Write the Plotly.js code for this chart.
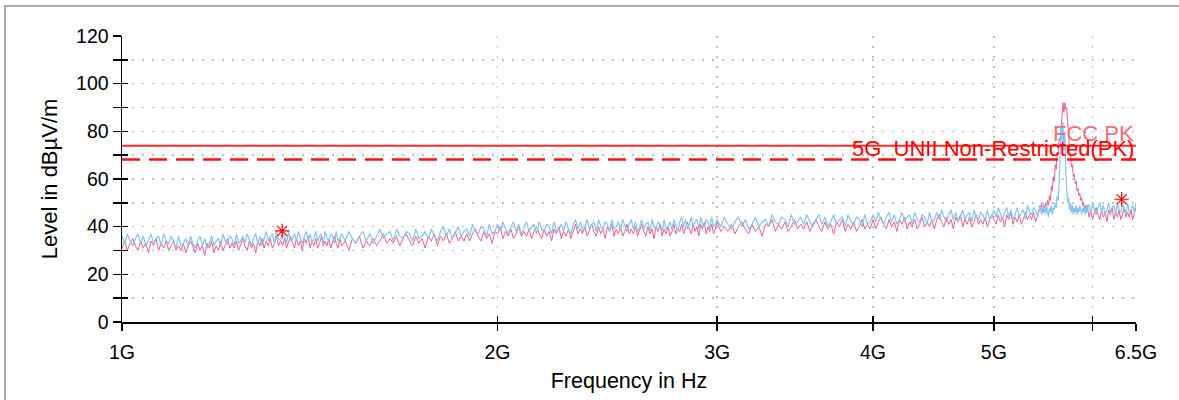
<!DOCTYPE html>
<html><head><meta charset="utf-8">
<script src="https://cdn.plot.ly/plotly-3.0.1.min.js"></script>
<style>
html,body{margin:0;padding:0;background:#fff;overflow:hidden}
#chart{width:1179px;height:400px}
#frame{position:absolute;left:4px;top:5px;width:1200px;height:420px;border-left:2px solid #aaa;border-top:2px solid #aaa;pointer-events:none;z-index:5}
</style></head><body>
<div id="chart"></div><div id="frame"></div>
<script>
// Sweep frequencies (GHz)
const freqGHz = [
1.000,1.005,1.010,1.015,1.020,1.025,1.030,1.035,1.040,1.045,
1.050,1.055,1.060,1.065,1.070,1.075,1.080,1.085,1.090,1.095,
1.100,1.105,1.110,1.115,1.120,1.125,1.130,1.135,1.140,1.145,
1.150,1.155,1.160,1.165,1.170,1.175,1.180,1.185,1.190,1.195,
1.200,1.205,1.210,1.215,1.220,1.225,1.230,1.235,1.240,1.245,
1.250,1.255,1.260,1.265,1.270,1.275,1.280,1.285,1.290,1.295,
1.300,1.305,1.310,1.315,1.320,1.325,1.330,1.335,1.340,1.345,
1.350,1.355,1.360,1.365,1.370,1.375,1.380,1.385,1.390,1.395,
1.400,1.405,1.410,1.415,1.420,1.425,1.430,1.435,1.440,1.445,
1.450,1.455,1.460,1.465,1.470,1.475,1.480,1.485,1.490,1.495,
1.50,1.51,1.52,1.53,1.54,1.55,1.56,1.57,1.58,1.59,
1.60,1.61,1.62,1.63,1.64,1.65,1.66,1.67,1.68,1.69,
1.70,1.71,1.72,1.73,1.74,1.75,1.76,1.77,1.78,1.79,
1.80,1.81,1.82,1.83,1.84,1.85,1.86,1.87,1.88,1.89,
1.90,1.91,1.92,1.93,1.94,1.95,1.96,1.97,1.98,1.99,
2.00,2.01,2.02,2.03,2.04,2.05,2.06,2.07,2.08,2.09,
2.10,2.11,2.12,2.13,2.14,2.15,2.16,2.17,2.18,2.19,
2.20,2.21,2.22,2.23,2.24,2.25,2.26,2.27,2.28,2.29,
2.30,2.31,2.32,2.33,2.34,2.35,2.36,2.37,2.38,2.39,
2.40,2.41,2.42,2.43,2.44,2.45,2.46,2.47,2.48,2.49,
2.50,2.51,2.52,2.53,2.54,2.55,2.56,2.57,2.58,2.59,
2.60,2.61,2.62,2.63,2.64,2.65,2.66,2.67,2.68,2.69,
2.70,2.71,2.72,2.73,2.74,2.75,2.76,2.77,2.78,2.79,
2.80,2.81,2.82,2.83,2.84,2.85,2.86,2.87,2.88,2.89,
2.90,2.91,2.92,2.93,2.94,2.95,2.96,2.97,2.98,2.99,
3.00,3.02,3.04,3.06,3.08,3.10,3.12,3.14,3.16,3.18,
3.20,3.22,3.24,3.26,3.28,3.30,3.32,3.34,3.36,3.38,
3.40,3.42,3.44,3.46,3.48,3.50,3.52,3.54,3.56,3.58,
3.60,3.62,3.64,3.66,3.68,3.70,3.72,3.74,3.76,3.78,
3.80,3.82,3.84,3.86,3.88,3.90,3.92,3.94,3.96,3.98,
4.00,4.02,4.04,4.06,4.08,4.10,4.12,4.14,4.16,4.18,
4.20,4.22,4.24,4.26,4.28,4.30,4.32,4.34,4.36,4.38,
4.40,4.42,4.44,4.46,4.48,4.50,4.52,4.54,4.56,4.58,
4.60,4.62,4.64,4.66,4.68,4.70,4.72,4.74,4.76,4.78,
4.80,4.82,4.84,4.86,4.88,4.90,4.92,4.94,4.96,4.98,
5.00,5.02,5.04,5.06,5.08,5.10,5.12,5.14,5.16,5.18,
5.20,5.22,5.24,5.26,5.28,5.30,5.32,5.34,5.36,5.38,
5.40,5.42,5.44,
5.45,5.46,5.47,5.48,5.49,5.50,5.51,5.52,5.53,5.54,
5.55,5.56,5.57,5.58,5.59,5.60,5.61,5.62,5.63,5.64,
5.65,5.66,5.67,5.68,5.69,5.70,5.71,5.72,5.73,5.74,
5.75,5.76,5.77,5.78,5.79,5.80,5.81,5.82,5.83,5.84,
5.85,5.86,5.87,5.88,5.89,5.90,5.91,5.92,5.93,5.94,5.95,
5.96,5.98,6.00,6.02,6.04,6.06,6.08,6.10,6.12,6.14,
6.16,6.18,6.20,6.22,6.24,6.26,6.28,6.30,6.32,6.34,
6.36,6.38,6.40,6.42,6.44,6.46,6.48,6.50
];
// Peak detector trace (dBµV/m) – pink
const levelPK = [
31,34,30,33,35,32,30,34,31,33,29,34,32,35,30,33,31,34,30,32,
34,30,32,30,33,29,32,34,31,29,33,30,32,28,33,31,34,29,32,30,
34,30,32,35,31,33,31,34,30,33,35,32,30,34,31,33,29,34,32,35,
31,34,32,35,31,33,36,32,34,32,35,31,34,36,33,31,35,32,34,30,
35,33,36,31,34,32,35,31,33,36,32,34,32,35,31,34,36,33,31,35,
32,34,30,35,33,36,31,34,32,35,
32,34,37,33,35,33,36,32,35,37,
34,32,36,33,35,31,36,34,37,32,
36,34,37,33,35,38,34,36,34,37,
34,37,39,36,34,38,35,37,33,38,
37,40,35,38,36,39,35,37,40,36,38,
36,39,35,38,40,37,35,39,36,38,34,39,37,40,35,38,36,39,35,
38,41,37,39,
37,40,36,39,41,38,36,40,37,39,35,40,38,41,36,39,37,40,36,38,41,37,39,
37,40,36,39,41,38,36,40,37,39,35,40,38,41,36,39,37,40,36,38,41,37,39,
38,41,37,40,42,39,37,41,38,40,36,41,39,42,37,40,38,41,37,39,
42,38,40,
38,41,37,40,42,39,37,41,38,40,36,41,
40,43,38,41,39,42,38,40,43,39,41,
39,42,38,41,43,40,38,42,39,41,37,42,40,43,38,41,39,42,38,40,43,39,41,
39,
43,39,42,44,41,39,43,40,42,38,43,41,44,39,42,40,43,39,41,44,40,42,
40,43,39,
43,45,42,40,44,41,43,39,44,42,45,40,43,41,44,40,42,45,41,43,
41,44,40,43,45,
43,41,45,42,44,40,45,43,46,41,44,42,45,41,43,46,
43,45,
43,46,42,45,47,
47,50,46,49,47,50,48,51,49,53,
51,57,55,61,59,66,64,71,70,77,
76,84,86,92,88,92,89,90,82,79,
72,70,65,66,61,62,58,59,55,56,
53,54,51,52,49,50,47,49,46,49,47,
44,47,43,46,48,45,43,47,44,46,
42,47,45,48,43,46,44,47,43,45,
48,44,46,44,47,43,46,48
];
// Second detector trace (dBµV/m) – light blue
const levelAV = [
36,33,37,34,32,35,37,33,36,32,34,37,33,35,36,32,37,34,33,36,
34,31,36,32,33,35,32,36,33,31,34,36,32,35,31,33,36,32,34,35,
32,37,34,33,36,35,32,37,33,34,36,33,37,34,32,35,37,33,36,32,
35,38,34,36,37,33,38,35,34,37,36,33,38,34,35,37,34,38,35,33,
36,38,34,37,33,35,38,34,36,37,33,38,35,34,37,36,33,38,34,35,
37,34,38,35,33,36,38,34,37,33,
36,39,35,37,38,34,39,36,35,38,
37,34,39,35,36,38,35,39,36,34,
38,40,36,39,35,37,40,36,38,39,
36,41,38,37,40,39,36,41,37,38,
41,38,42,39,37,40,42,38,41,37,39,42,38,40,41,37,42,39,38,41,40,37,42,38,39,
41,38,42,39,37,
41,43,39,42,38,40,43,39,41,42,38,43,40,39,42,41,38,43,39,40,
42,39,43,40,38,41,43,39,42,38,40,43,39,41,42,38,43,40,39,42,41,38,43,39,40,
42,39,43,40,38,
42,44,40,43,39,41,44,40,42,43,39,44,41,40,43,42,39,44,40,41,
43,40,44,41,39,42,44,40,43,39,41,44,40,42,43,
40,45,42,41,44,43,40,45,41,42,
44,41,45,42,40,43,45,41,44,40,42,45,41,43,44,40,45,42,41,44,43,40,45,41,42,
45,42,46,43,41,44,46,42,45,41,43,46,42,44,45,41,46,43,42,45,44,41,46,42,43,
46,43,47,44,42,45,47,43,46,42,44,47,43,45,46,42,47,44,43,46,45,42,47,43,44,
47,44,48,45,43,46,48,44,47,43,45,48,44,46,47,43,
49,46,45,48,47,44,49,
48,45,49,46,48,45,49,47,44,48,
46,49,45,48,47,50,48,53,51,58,
70,83,76,84,72,80,62,54,50,52,
47,50,46,49,45,48,46,49,45,48,
46,49,47,45,48,46,49,45,48,46,49,
49,46,50,47,45,48,50,46,49,45,
47,50,46,48,49,45,50,47,46,49,
48,45,50,46,47,49,46,50
];
// Limit lines
const limitFreq = [1.0, 6.5];
const limitFCC = [74, 74];
const limitUNII = [68.2, 68.2];
const limitNames = ['FCC PK', '5G_UNII Non-Restricted(PK)'];
// Final measurement markers
const markFreq = [1.344, 6.33];
const markLevel = [38.2, 51.5];
// Axis ticks
const xTickVals = [1, 2, 3, 4, 5, 6, 6.5];
const xTickText = ['1G', '2G', '3G', '4G', '5G', '', '6.5G'];

const FONT = 'Liberation Sans, Arial, sans-serif';
const gridStyle = {gridcolor: '#c2c2c2', gridwidth: 1.5, griddash: '2px,8px'};

const traces = [
  {x: freqGHz, y: levelPK, mode: 'lines', line: {color: '#f0608a', width: 1}, hoverinfo: 'skip'},
  {x: freqGHz, y: levelAV, mode: 'lines', line: {color: '#84c2f8', width: 1.2}, hoverinfo: 'skip'},
  {x: limitFreq, y: limitFCC, mode: 'lines', line: {color: '#ff2a2a', width: 2}, hoverinfo: 'skip'},
  {x: limitFreq, y: limitUNII, mode: 'lines', line: {color: '#ff1010', width: 2.5, dash: '18px,9px'}, hoverinfo: 'skip'},
  {x: markFreq, y: markLevel, mode: 'markers', marker: {symbol: 'asterisk-open', size: 12, color: '#ff0000', line: {color: '#ff0000', width: 1.2}}, hoverinfo: 'skip'},
  {x: [], y: [], xaxis: 'x2', yaxis: 'y2', hoverinfo: 'skip'}
];

const xr = [0, Math.log10(6.5)];
const layout = {
  width: 1179, height: 400,
  margin: {l: 122, r: 43, t: 36, b: 78},
  paper_bgcolor: '#fff', plot_bgcolor: '#fff',
  showlegend: false,
  font: {family: FONT, color: '#000'},
  xaxis: Object.assign({
    type: 'log', range: xr, tickmode: 'array', tickvals: xTickVals, ticktext: xTickText,
    ticks: 'outside', ticklen: 7, tickwidth: 1.5, tickcolor: '#000',
    showline: true, linecolor: '#000', linewidth: 1.5, zeroline: false, showgrid: true,
    tickfont: {family: FONT, size: 19.5, color: '#000'}, ticklabelstandoff: 5,
    title: {text: 'Frequency in Hz', font: {family: FONT, size: 21.5, color: '#000'}, standoff: 11}
  }, gridStyle),
  yaxis: Object.assign({
    range: [0, 120], tickmode: 'linear', tick0: 0, dtick: 20,
    ticks: 'outside', ticklen: 8, tickwidth: 1.5, tickcolor: '#000',
    showline: true, linecolor: '#000', linewidth: 1.5, zeroline: false, showgrid: true,
    tickfont: {family: FONT, size: 19.5, color: '#000'},
    minor: {dtick: 10, ticks: 'outside', ticklen: 8, tickwidth: 1.5, tickcolor: '#000', showgrid: true, gridcolor: '#c2c2c2', gridwidth: 1.5, griddash: '2px,8px'},
    title: {text: 'Level in dBµV/m', font: {family: FONT, size: 22, color: '#000'}, standoff: 12}
  }, gridStyle),
  xaxis2: {overlaying: 'x', anchor: 'y2', type: 'log', range: xr, tickmode: 'array', tickvals: xTickVals,
    ticks: 'inside', ticklen: 6, tickwidth: 1.5, tickcolor: '#000', showticklabels: false,
    showgrid: false, showline: false, zeroline: false},
  yaxis2: {overlaying: 'y', anchor: 'x2', range: [0, 120], tickmode: 'linear', tick0: 0, dtick: 10,
    ticks: 'inside', ticklen: 6, tickwidth: 1.5, tickcolor: '#000', showticklabels: false,
    showgrid: false, showline: false, zeroline: false},
  annotations: [
    {x: Math.log10(limitFreq[1]), y: 79.3, xref: 'x', yref: 'y', text: limitNames[0], showarrow: false,
     xanchor: 'right', yanchor: 'middle', font: {family: FONT, size: 22, color: '#f07070'}},
    {x: Math.log10(limitFreq[1]), y: 73.0, xref: 'x', yref: 'y', text: limitNames[1], showarrow: false,
     xanchor: 'right', yanchor: 'middle', font: {family: FONT, size: 22, color: '#ff0000'}}
  ]
};

Plotly.newPlot('chart', traces, layout, {staticPlot: true, displayModeBar: false});
</script>
</body></html>
